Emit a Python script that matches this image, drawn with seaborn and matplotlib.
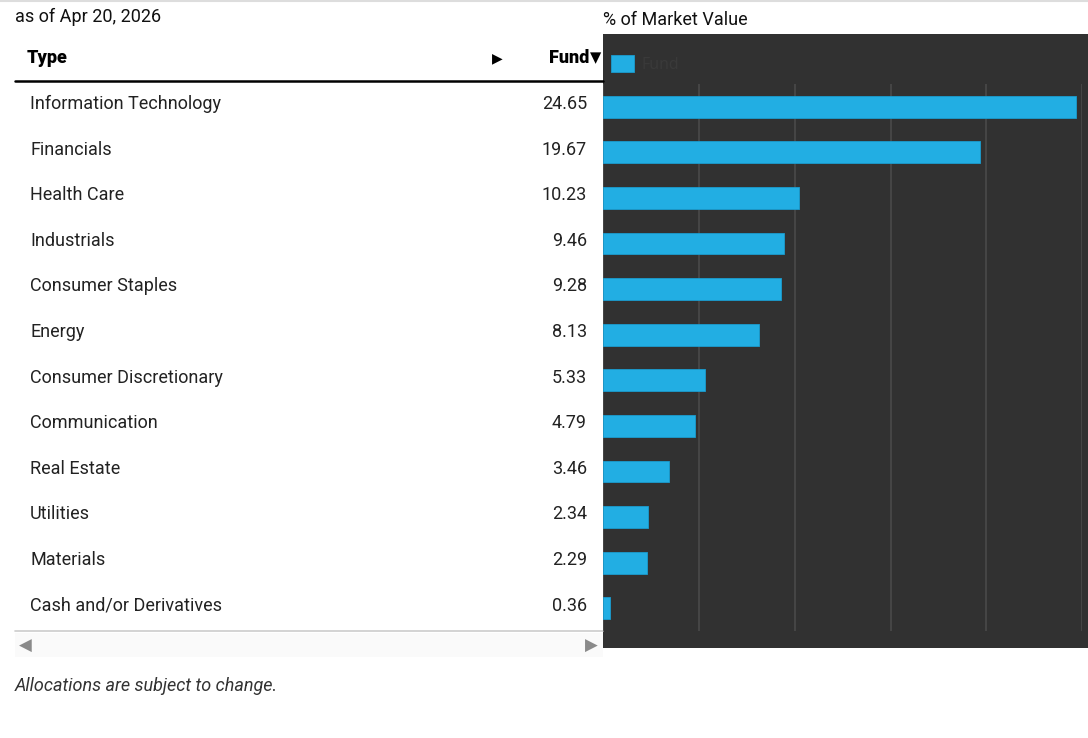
import matplotlib
matplotlib.use("Agg")
import matplotlib.pyplot as plt
import seaborn as sns
import pandas as pd
from matplotlib.patches import Rectangle
from matplotlib.lines import Line2D

categories = ["Information Technology", "Financials", "Health Care", "Industrials",
              "Consumer Staples", "Energy", "Consumer Discretionary", "Communication",
              "Real Estate", "Utilities", "Materials", "Cash and/or Derivatives"]
fund_values = [24.65, 19.67, 10.23, 9.46, 9.28, 8.13, 5.33, 4.79, 3.46, 2.34, 2.29, 0.36]
value_labels = ["24.65", "19.67", "10.23", "9.46", "9.28", "8.13", "5.33", "4.79",
                "3.46", "2.34", "2.29", "0.36"]
x_ticks = [0, 5, 10, 15, 20, 25]

sns.set_theme(style="white")
plt.rcParams['font.family'] = ['Roboto', 'DejaVu Sans']

W, H = 1088, 738
fig = plt.figure(figsize=(W / 100, H / 100), dpi=100)
fig.patch.set_facecolor("white")

def fx(px):
    return px / W

def fy(py):
    return 1 - py / H

# dark panel
fig.patches.append(Rectangle((fx(603), fy(648)), fx(1088) - fx(603), fy(34) - fy(648),
                             transform=fig.transFigure, facecolor="#313131",
                             edgecolor="none", zorder=-10))
# top thin line
fig.add_artist(Line2D([0, 1], [fy(0.5), fy(0.5)], transform=fig.transFigure,
                      color="#dddddd", lw=1.5))

# bar axes
ax = fig.add_axes([fx(603), fy(631), fx(1082.3) - fx(603), fy(84) - fy(631)])
ax.set_zorder(5)
ax.set_facecolor("none")
df = pd.DataFrame({"Type": categories, "Fund": fund_values})
sns.barplot(data=df, x="Fund", y="Type", orient="h", color="#22aee3",
            saturation=1, width=0.48, ax=ax, edgecolor="#1a9ccf", linewidth=0.6)
ax.set_xlim(0, 25)
ax.set_ylim(11.5, -0.5)
ax.set_xticks(x_ticks)
ax.xaxis.grid(True, color="#4a4a4a", lw=1.2)
ax.set_axisbelow(True)
ax.tick_params(left=False, bottom=False, labelleft=False, labelbottom=False)
for s in ax.spines.values():
    s.set_visible(False)
ax.set_xlabel("")
ax.set_ylabel("")

# legend
handle = Rectangle((0, 0), 1, 1, facecolor="#22aee3", edgecolor="#1a9ccf", lw=0.6)
leg = fig.legend([handle], ["Fund"], loc="center left",
                 bbox_to_anchor=(fx(597), fy(64)), frameon=False,
                 handlelength=1.4, handleheight=1.2, handletextpad=0.5,
                 prop={"family": "Open Sans", "size": 11.5})
leg.set_zorder(6)
for t in leg.get_texts():
    t.set_color("#3a3a3a")

FS = 13
# texts
fig.text(fx(15), fy(17), "as of Apr 20, 2026", fontsize=FS, color="#111111",
         va="center", ha="left")
fig.text(fx(603), fy(20), "% of Market Value", fontsize=FS, color="#111111",
         va="center", ha="left")
fig.text(fx(27), fy(58), "Type", fontsize=FS, fontweight="heavy", color="#000000",
         va="center", ha="left")
fig.text(fx(497), fy(58), "▶", fontsize=10, color="#000000", va="center", ha="center",
         family="DejaVu Sans")
fig.text(fx(589), fy(58), "Fund", fontsize=FS, fontweight="heavy", color="#000000",
         va="center", ha="right")
fig.text(fx(595.5), fy(58), "▼", fontsize=10.5, color="#000000", va="center", ha="center",
         family="DejaVu Sans")
fig.add_artist(Line2D([fx(15), fx(603)], [fy(80.5), fy(80.5)], transform=fig.transFigure,
                      color="#000000", lw=1.8))

for i, (cat, lab) in enumerate(zip(categories, value_labels)):
    y = 104 + 45.6 * i
    fig.text(fx(30), fy(y), cat, fontsize=FS, color="#222222", va="center", ha="left")
    fig.text(fx(587), fy(y), lab, fontsize=FS, color="#222222", va="center", ha="right")

fig.add_artist(Line2D([fx(15), fx(603)], [fy(630.5), fy(630.5)], transform=fig.transFigure,
                      color="#cccccc", lw=1.2))
fig.patches.append(Rectangle((fx(15), fy(657)), fx(603) - fx(15), fy(633) - fy(657),
                             transform=fig.transFigure, facecolor="#fafafa",
                             edgecolor="none", zorder=-10))
fig.text(fx(25), fy(646), "◀", fontsize=12, color="#8a8a8a", va="center", ha="center",
         family="DejaVu Sans")
fig.text(fx(591), fy(646), "▶", fontsize=12, color="#8a8a8a", va="center", ha="center",
         family="DejaVu Sans")

fig.text(fx(15), fy(686), "Allocations are subject to change.", fontsize=FS,
         style="italic", color="#333333", va="center", ha="left")

fig.savefig("out.png", dpi=100)
